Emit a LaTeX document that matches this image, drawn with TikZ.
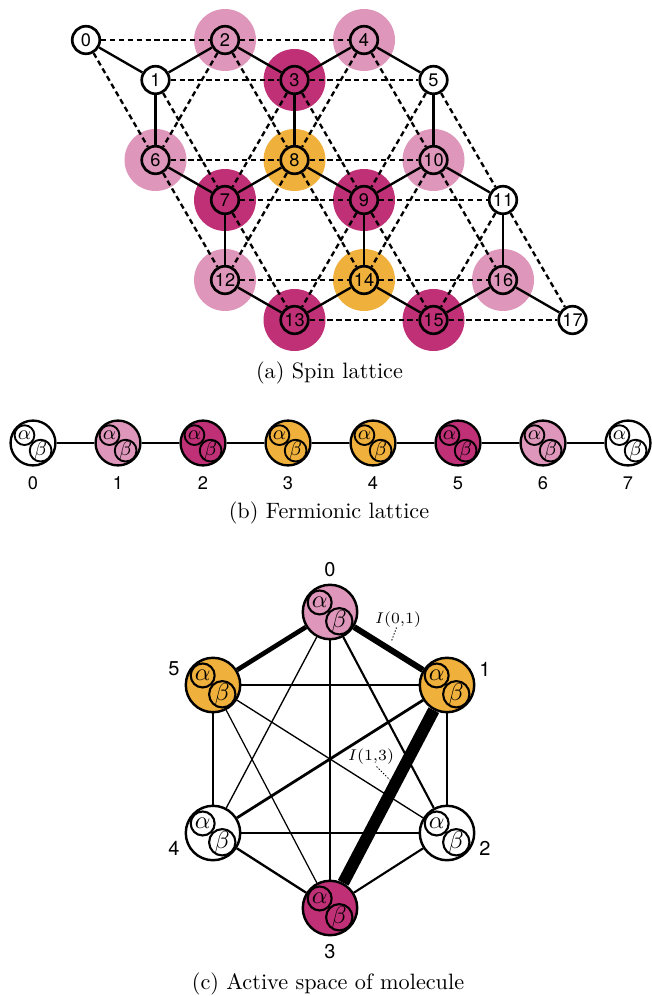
\documentclass[tikz,border=0pt]{standalone}
\usepackage{fontspec}
\newfontfamily\hel{TeX Gyre Heros}
\usetikzlibrary{calc}
\definecolor{lpink}{HTML}{DE96BA}
\definecolor{dmag}{HTML}{C03076}
\definecolor{orng}{HTML}{F0B03C}
\pgfdeclarelayer{disks}
\pgfdeclarelayer{edges}
\pgfsetlayers{disks,edges,main}
% #1 name, #2 position, #3 colour, #4 radius, #5 font size, #6 outer line width, #7 inner line width
\newcommand\orb[7]{%
  \node[circle, draw, line width=#6, fill=#3, minimum size=2*#4, inner sep=0pt] (#1) at #2 {};
  \node[circle, draw, line width=#7, fill=#3, minimum size=0.88*#4, inner sep=0pt,
        font=\fontsize{#5}{#5}\selectfont] (#1a) at ($(#1.center)+(-0.38*#4,0.35*#4)$) {$\alpha$};
  \node[circle, draw, line width=#7, fill=#3, minimum size=0.92*#4, inner sep=0pt,
        font=\fontsize{#5}{#5}\selectfont] (#1b) at ($(#1.center)+(0.34*#4,-0.34*#4)$) {$\beta$};
}
\begin{document}
\begin{tikzpicture}[x=0.45pt,y=-0.45pt,
  site/.style={circle, draw, line width=1.2pt, minimum size=12.4pt, inner sep=0pt,
               font=\hel\fontsize{8.2}{9}\selectfont},
  bond/.style={line width=1.05pt},
  nnn/.style={line width=1.05pt, dash pattern=on 2.4pt off 1.6pt},
  num/.style={font=\hel\fontsize{8.2}{9}\selectfont, inner sep=0pt},
  mnum/.style={font=\hel\fontsize{9}{10}\selectfont, inner sep=0pt},
  captext/.style={font=\fontsize{10}{12}\selectfont, anchor=base, inner sep=0pt},
  ilab/.style={font=\fontsize{7.5}{8}\selectfont, inner sep=0.5pt},
  leader/.style={line width=0.4pt, dash pattern=on 0.6pt off 0.8pt},
  fline/.style={line width=0.95pt}]
\useasboundingbox (0,0) rectangle (652,996);

% ---------------- (a) spin lattice ----------------
\foreach \n/\c/\r/\col in {0/0/40/white,1/1/80/white,2/2/40/lpink,3/3/80/dmag,4/4/40/lpink,5/5/80/white,
  6/1/160/lpink,7/2/200/dmag,8/3/160/orng,9/4/200/dmag,10/5/160/lpink,11/6/200/white,
  12/2/280/lpink,13/3/320/dmag,14/4/280/orng,15/5/320/dmag,16/6/280/lpink,17/7/320/white}
  \node[site, fill=\col] (s\n) at ({86+69.5*\c},\r) {\n};

\begin{pgfonlayer}{disks}
  \foreach \n/\col in {2/lpink,3/dmag,4/lpink,6/lpink,7/dmag,8/orng,9/dmag,10/lpink,
                       12/lpink,13/dmag,14/orng,15/dmag,16/lpink}
    \fill[\col] (s\n.center) circle[radius=13.95pt];
\end{pgfonlayer}

\begin{pgfonlayer}{edges}
  \foreach \a/\b in {0/1,1/2,1/6,2/3,3/4,3/8,4/5,5/10,6/7,7/8,7/12,8/9,9/10,9/14,10/11,
                     11/16,12/13,13/14,14/15,15/16,16/17}
    \draw[bond] (s\a) -- (s\b);
  \foreach \a/\b in {0/2,0/6,2/6,2/4,2/8,4/8,1/3,3/5,4/10,1/7,6/8,6/12,8/12,3/7,3/9,7/9,
                     8/10,8/14,10/14,5/9,5/11,9/11,10/16,7/13,12/14,9/13,9/15,13/15,
                     14/16,11/15,11/17,15/17}
    \draw[nnn] (s\a) -- (s\b);
\end{pgfonlayer}

\node[captext] (capa) at (329.5,378) {(a) Spin lattice};

% ---------------- (b) fermionic lattice ----------------
\foreach \i/\col in {0/white,1/lpink,2/dmag,3/orng,4/orng,5/dmag,6/lpink,7/white}{
  \orb{f\i}{({33+85*\i},443)}{\col}{10.1pt}{9.3}{1.05pt}{0.85pt}
  \node[num] (fl\i) at ({33+85*\i},483) {\i};
}
\begin{pgfonlayer}{edges}
  \foreach \a/\b in {0/1,1/2,2/3,3/4,4/5,5/6,6/7}
    \draw[fline] (f\a) -- (f\b);
\end{pgfonlayer}

\node[captext] (capb) at (329,518.5) {(b) Fermionic lattice};

% ---------------- (c) molecule ----------------
\orb{m0}{(330,612)}{lpink}{12.25pt}{11.2}{1.1pt}{0.95pt}
\orb{m1}{(447,685)}{orng}{12.25pt}{11.2}{1.1pt}{0.95pt}
\orb{m2}{(447,833)}{white}{12.25pt}{11.2}{1.1pt}{0.95pt}
\orb{m3}{(330,908)}{dmag}{12.25pt}{11.2}{1.1pt}{0.95pt}
\orb{m4}{(213,833)}{white}{12.25pt}{11.2}{1.1pt}{0.95pt}
\orb{m5}{(213,685)}{orng}{12.25pt}{11.2}{1.1pt}{0.95pt}

\node[mnum] (ml0) at (330,570) {0};
\node[mnum] (ml1) at (485,669) {1};
\node[mnum] (ml2) at (485,848) {2};
\node[mnum] (ml3) at (330,952) {3};
\node[mnum] (ml4) at (174,848) {4};
\node[mnum] (ml5) at (174,669) {5};

\begin{pgfonlayer}{edges}
  \draw[line width=2.7pt] (m0) -- (m1);
  \draw[line width=2.1pt] (m0) -- (m5);
  \draw[line width=5.4pt] (m1) -- (m3);
  \draw[line width=1.05pt] (m1) -- (m5);
  \draw[line width=1.05pt] (m0) -- (m3);
  \draw[line width=0.95pt] (m0) -- (m2);
  \draw[line width=0.6pt] (m0) -- (m4);
  \draw[line width=0.6pt] (m5) -- (m2);
  \draw[line width=0.55pt] (m5) -- (m3);
  \draw[line width=1.25pt] (m1) -- (m4);
  \draw[line width=1.05pt] (m1) -- (m2);
  \draw[line width=1.05pt] (m5) -- (m4);
  \draw[line width=0.95pt] (m4) -- (m2);
  \draw[line width=1.05pt] (m4) -- (m3);
  \draw[line width=0.95pt] (m2) -- (m3);
\end{pgfonlayer}

\node[ilab] (i01) at (398,620) {$I(0{,}1)$};
\coordinate (e01) at (391.5,641);
\draw[leader] (396.5,627.5) -- (e01);
\node[ilab] (i13) at (371,757) {$I(1{,}3)$};
\coordinate (e13) at (390.5,780.5);
\draw[leader] (376.5,766.5) -- (e13);

\node[captext] (capc) at (328,989) {(c) Active space of molecule};
\end{tikzpicture}
\end{document}
